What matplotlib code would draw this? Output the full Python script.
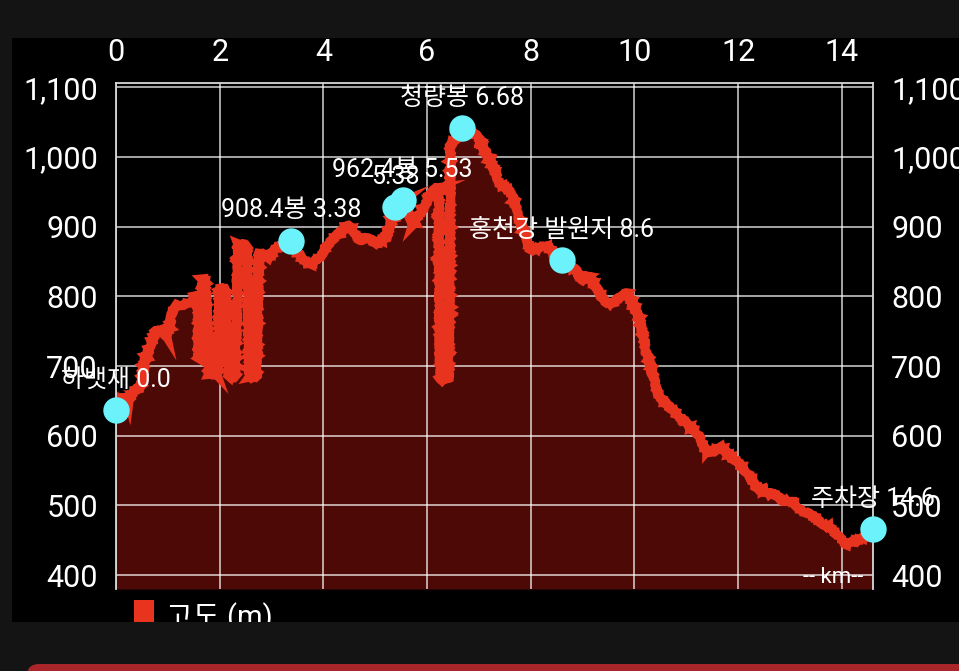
import numpy as np
import matplotlib
matplotlib.use("Agg")
from matplotlib import pyplot as plt
from matplotlib.patches import Rectangle, FancyBboxPatch
from matplotlib.ticker import FuncFormatter

plt.rcParams['font.family'] = ['Roboto', 'Noto Sans CJK KR', 'DejaVu Sans']

# elevation profile (km, m)
dist_km = [0.00, 0.10, 0.26, 0.35, 0.48, 0.54, 0.67, 0.77, 0.90, 0.99,
           1.09, 1.15, 1.44, 1.54, 1.58, 1.60, 1.66, 1.72, 1.80, 1.95,
           2.00, 2.12, 2.18, 2.30, 2.36, 2.52, 2.58, 2.70, 2.76, 2.95,
           3.10, 3.25, 3.38, 3.56, 3.75, 3.94, 4.07, 4.20, 4.46, 4.55,
           4.71, 4.84, 5.03, 5.22, 5.29, 5.38, 5.53, 5.70, 5.73, 5.87,
           6.00, 6.12, 6.22, 6.25, 6.42, 6.45, 6.55, 6.68, 6.95, 7.08,
           7.27, 7.40, 7.60, 7.66, 7.76, 7.95, 8.01, 8.17, 8.33, 8.60,
           8.88, 8.97, 9.10, 9.26, 9.45, 9.58, 9.78, 9.87, 9.97, 10.10,
           10.22, 10.35, 10.45, 10.60, 10.74, 10.90, 11.06, 11.22, 11.38, 11.51,
           11.67, 11.86, 12.02, 12.18, 12.34, 12.53, 12.72, 12.85, 13.04, 13.20,
           13.43, 13.62, 13.81, 13.94, 14.07, 14.20, 14.33, 14.45, 14.60]
elev_m = [637, 661, 648, 665, 670, 704, 732, 751, 749, 742,
          780, 787, 790, 802, 800, 710, 825, 822, 688, 688,
          812, 810, 684, 684, 876, 874, 684, 684, 862, 856,
          870, 876, 880, 857, 845, 857, 873, 883, 902, 897,
          880, 885, 876, 885, 904, 928, 938, 909, 902, 919,
          938, 952, 957, 681, 681, 1020, 1025, 1041, 1031, 1014,
          986, 962, 952, 940, 914, 876, 866, 871, 871, 852,
          837, 823, 830, 813, 790, 790, 804, 806, 790, 766,
          723, 689, 660, 646, 637, 625, 613, 603, 579, 577,
          584, 570, 560, 546, 527, 519, 515, 507, 507, 493,
          486, 474, 467, 455, 443, 448, 450, 455, 458]

# waypoints
wp_names = ['하뱃재 0.0', '908.4봉 3.38', '5.38', '962.4봉 5.53',
            '청량봉 6.68', '홍천강 발원지 8.6', '주차장 14.6']
wp_km = [0.0, 3.38, 5.38, 5.53, 6.68, 8.6, 14.6]
wp_elev = [637, 880, 928, 938, 1041, 852, 466]

x_ticks = [0, 2, 4, 6, 8, 10, 12, 14]
y_ticks = [400, 500, 600, 700, 800, 900, 1000, 1100]

W, H = 959, 671
fig = plt.figure(figsize=(W / 100, H / 100), dpi=100, facecolor='#141414')

# background panel in pixel coords
bg = fig.add_axes([0, 0, 1, 1], zorder=0)
bg.set_xlim(0, W)
bg.set_ylim(H, 0)
bg.axis('off')
bg.add_patch(Rectangle((12, 38), W, 584, color='black', lw=0))
bg.add_patch(Rectangle((134, 600), 20, 26, color='#e8331e', lw=0))
bg.text(166, 618, '고도 (m)', color='white', fontsize=21, va='center', ha='left')

# main chart
left, right, top, bottom = 116, 873, 82.5, 589
ax = fig.add_axes([left / W, 1 - bottom / H, (right - left) / W, (bottom - top) / H], zorder=1)
ax.set_facecolor('none')

ax.fill_between(dist_km, elev_m, 380, color='#4c0906', lw=0, zorder=1)
line, = ax.plot(dist_km, elev_m, color='#e8331e', lw=6.5, solid_joinstyle='miter', zorder=2)
line.set_sketch_params(scale=1.0, length=1.0, randomness=1.5)

ax.plot(wp_km, wp_elev, 'o', color='#6cf2fb', ms=19, mew=0, zorder=4, clip_on=False)
for name, k, e in zip(wp_names, wp_km, wp_elev):
    ax.annotate(name, (k, e), xytext=(0, 22), textcoords='offset points',
                ha='center', va='center', color='white', fontsize=18,
                zorder=5, annotation_clip=False)

ax.text(0.947, 0.022, '-- km--', transform=ax.transAxes, ha='center', va='center',
        color='white', fontsize=16, zorder=5)

ax.set_xlim(0, 14.6)
ax.set_ylim(380, 1107)
ax.set_xticks(x_ticks)
ax.set_yticks(y_ticks)
ax.yaxis.set_major_formatter(FuncFormatter(lambda v, p: f'{v:,.0f}'))
ax.grid(True, color='white', alpha=0.7, lw=1.3, zorder=1.5)

ax.tick_params(axis='x', top=True, bottom=False, labeltop=True, labelbottom=False,
               length=0, pad=11, labelsize=22, labelcolor='white')
ax.tick_params(axis='y', left=False, right=False, labelleft=True, labelright=True,
               length=0, pad=13, labelsize=22, labelcolor='white')

for side in ['left', 'right', 'top']:
    ax.spines[side].set_color('#d8d8d8')
    ax.spines[side].set_linewidth(1.3)
ax.spines['bottom'].set_visible(False)

# cover below the panel + bottom button
fg = fig.add_axes([0, 0, 1, 1], zorder=3)
fg.set_xlim(0, W)
fg.set_ylim(H, 0)
fg.axis('off')
fg.patch.set_alpha(0)
fg.add_patch(Rectangle((0, 622), W, H - 622, color='#141414', lw=0))
fg.add_patch(FancyBboxPatch((27, 664), W, 40, boxstyle='round,pad=0,rounding_size=12',
                            color='#a8262a', lw=0))

fig.savefig('out.png', dpi=100, facecolor=fig.get_facecolor())
